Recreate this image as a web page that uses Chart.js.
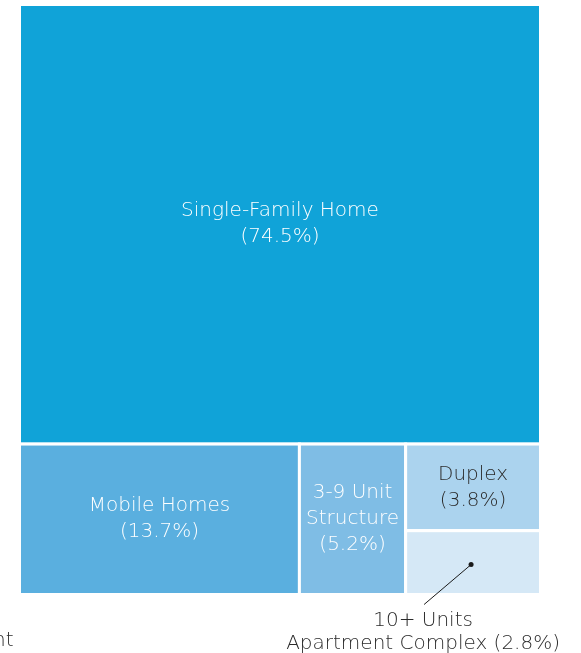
<!DOCTYPE html>
<html>
<head>
<meta charset="utf-8">
<script src="https://cdn.jsdelivr.net/npm/chart.js@4"></script>
<style>
  html, body { margin: 0; padding: 0; background: #fff; }
  #wrap { width: 581px; height: 653px; }
</style>
</head>
<body>
<div id="wrap"><canvas id="treemap"></canvas></div>
<script>
// ===================== DATOS =====================
const categories = ["Single-Family Home", "Mobile Homes", "3-9 Unit\nStructure", "Duplex", "10+ Units\nApartment Complex"];
const shares = [74.5, 13.7, 5.2, 3.8, 2.8];
const fillColors = ["#10a3d8", "#5aafdf", "#7fbde5", "#abd3ee", "#d5e8f6"];
const textColors = ["#ffffff", "#ffffff", "#ffffff", "#2b2b2b", "#2b2b2b"];

const FONT = "200 20px 'DejaVu Sans'";
const LINE_H = 26;

// ===================== SQUARIFY =====================
function worst(row, side) {
  const s = row.reduce((a, b) => a + b, 0);
  const mx = Math.max(...row), mn = Math.min(...row);
  return Math.max((side * side * mx) / (s * s), (s * s) / (side * side * mn));
}

function squarify(values, x, y, w, h) {
  const total = values.reduce((a, b) => a + b, 0);
  const areas = values.map((v) => (v * w * h) / total);
  const rects = [];
  let i = 0;
  while (i < areas.length) {
    const side = Math.min(w, h);
    const row = [areas[i]];
    let j = i + 1;
    while (j < areas.length && worst(row.concat(areas[j]), side) <= worst(row, side)) {
      row.push(areas[j]);
      j++;
    }
    const rowSum = row.reduce((a, b) => a + b, 0);
    if (w >= h) {
      // columna a la izquierda
      const t = rowSum / h;
      let cy = y;
      row.forEach((a) => {
        const rh = a / t;
        rects.push({ x: x, y: cy, w: t, h: rh });
        cy += rh;
      });
      x += t; w -= t;
    } else {
      // fila arriba
      const t = rowSum / w;
      let cx = x;
      row.forEach((a) => {
        const rw = a / t;
        rects.push({ x: cx, y: y, w: rw, h: t });
        cx += rw;
      });
      y += t; h -= t;
    }
    i = j;
  }
  return rects;
}

// ===================== PLUGIN TREEMAP =====================
const treemapPlugin = {
  id: "treemapRects",
  afterDatasetsDraw(chart) {
    const { ctx, scales } = chart;
    const left = scales.x.getPixelForValue(0);
    const right = scales.x.getPixelForValue(1);
    const top = scales.y.getPixelForValue(1);
    const bottom = scales.y.getPixelForValue(0);
    const data = chart.data.datasets[0].data;
    const rects = squarify(data, left, top, right - left, bottom - top);

    ctx.save();
    rects.forEach((r, i) => {
      ctx.fillStyle = fillColors[i];
      ctx.fillRect(r.x, r.y, r.w, r.h);
      ctx.strokeStyle = "#ffffff";
      ctx.lineWidth = 3;
      ctx.strokeRect(r.x, r.y, r.w, r.h);
    });

    ctx.font = FONT;
    ctx.textAlign = "center";
    ctx.textBaseline = "middle";
    rects.forEach((r, i) => {
      const lines = categories[i].split("\n");
      lines[lines.length - 1] += " (" + data[i].toFixed(1) + "%)";
      // si cabe dentro, nombre y porcentaje en líneas separadas
      const inner = categories[i].split("\n").concat("(" + data[i].toFixed(1) + "%)");
      const maxW = Math.max(...inner.map((t) => ctx.measureText(t).width));
      const cx = r.x + r.w / 2, cy = r.y + r.h / 2;
      if (maxW < r.w - 4 && inner.length * LINE_H < r.h - 6) {
        ctx.fillStyle = textColors[i];
        const y0 = cy - ((inner.length - 1) * LINE_H) / 2;
        inner.forEach((t, k) => ctx.fillText(t, cx, y0 + k * LINE_H));
      } else {
        // etiqueta fuera con línea guía
        const tx = cx - 50, ty = r.y + r.h + 26;
        ctx.strokeStyle = "#1a1a1a";
        ctx.lineWidth = 1;
        ctx.beginPath();
        ctx.moveTo(cx - 2, cy + 2);
        ctx.lineTo(tx + 1, ty - 16);
        ctx.stroke();
        ctx.fillStyle = "#1a1a1a";
        ctx.beginPath();
        ctx.arc(cx - 2, cy + 2, 2.5, 0, Math.PI * 2);
        ctx.fill();
        ctx.fillStyle = textColors[i];
        lines.forEach((t, k) => ctx.fillText(t, tx, ty + k * 23));
      }
    });
    // texto cortado en el borde izquierdo
    ctx.fillStyle = "#2b2b2b";
    ctx.textAlign = "left";
    ctx.fillText("nt", -7, 641);
    ctx.restore();
  },
};

// ===================== CHART =====================
new Chart(document.getElementById("treemap"), {
  type: "scatter",
  data: {
    labels: categories,
    datasets: [{ label: "Vivienda", data: shares, pointRadius: 0 }],
  },
  options: {
    responsive: true,
    maintainAspectRatio: false,
    animation: false,
    layout: { padding: { left: 19.5, right: 40.5, top: 4.5, bottom: 58.5 } },
    plugins: { legend: { display: false }, tooltip: { enabled: false } },
    scales: {
      x: { type: "linear", min: 0, max: 1, display: false },
      y: { type: "linear", min: 0, max: 1, display: false },
    },
  },
  plugins: [treemapPlugin],
});
</script>
</body>
</html>
